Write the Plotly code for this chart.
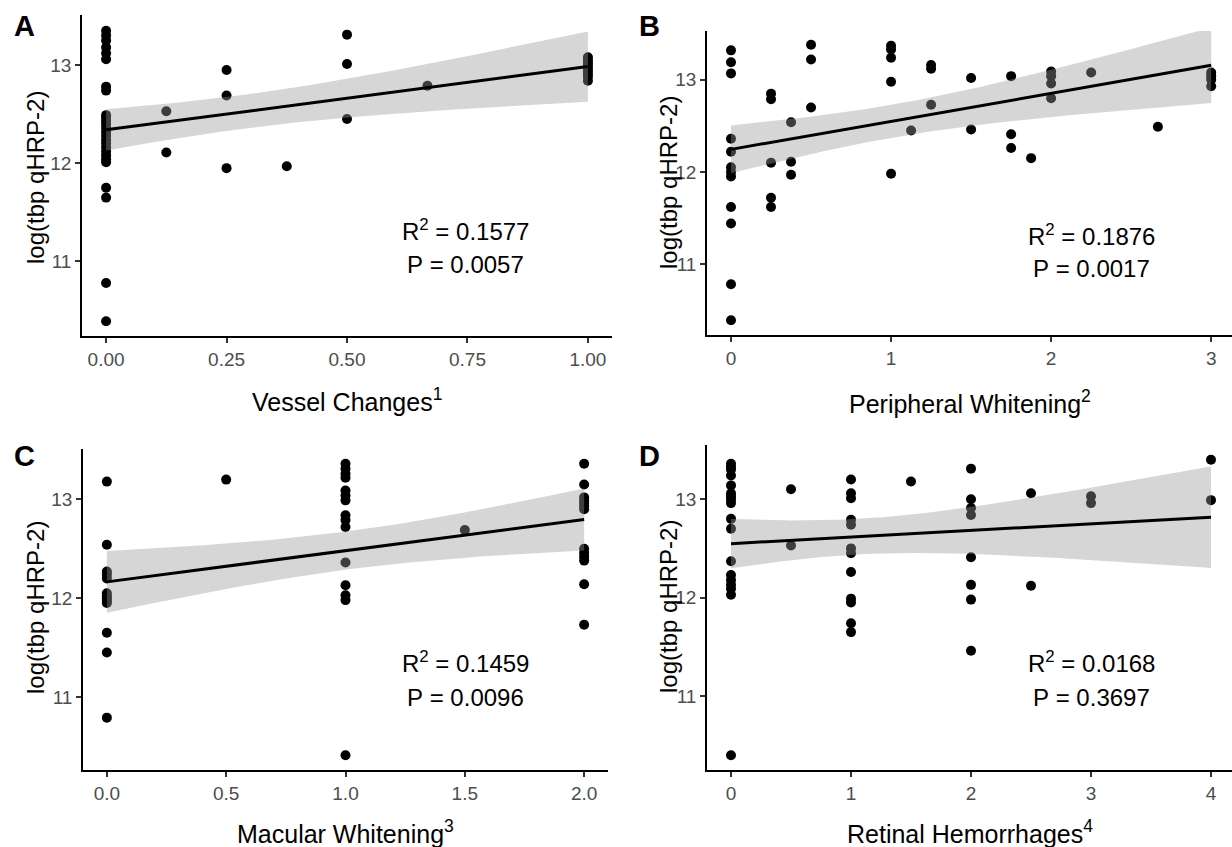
import numpy as np
import plotly.graph_objects as go

W, H = 1232, 847

# ---------------- data ----------------
# Panel A: Vessel Changes
a_x = [0]*26 + [0.125]*2 + [0.25]*3 + [0.375] + [0.5]*3 + [0.667] + [1.0]*9
a_y = [13.35, 13.30, 13.25, 13.18, 13.12, 13.06, 12.78, 12.74,
       12.49, 12.46, 12.43, 12.40, 12.36, 12.32, 12.28, 12.24, 12.20, 12.16, 12.12,
       12.08, 12.04, 12.01,
       11.75, 11.65, 10.78, 10.39,
       12.53, 12.11,
       12.95, 12.69, 11.95,
       11.97,
       13.31, 13.01, 12.45,
       12.79,
       13.08, 13.05, 13.02, 13.00, 12.97, 12.94, 12.91, 12.88, 12.84]

# Panel B: Peripheral Whitening
b_x = ([0]*12 + [0.25]*5 + [0.375]*3 + [0.5]*3 + [1.0]*5 + [1.125] + [1.25]*3 +
       [1.5]*2 + [1.75]*3 + [1.875] + [2.0]*4 + [2.25] + [2.667] + [3.0]*4)
b_y = [13.32, 13.19, 13.07, 12.36, 12.22, 12.05, 12.00, 11.95, 11.62, 11.44, 10.78, 10.39,
       12.85, 12.79, 12.10, 11.72, 11.62,
       12.54, 12.11, 11.97,
       13.38, 13.22, 12.70,
       13.37, 13.33, 13.24, 12.98, 11.98,
       12.45,
       13.16, 13.12, 12.73,
       13.02, 12.46,
       13.04, 12.41, 12.26,
       12.15,
       13.09, 13.04, 12.96, 12.80,
       13.08,
       12.49,
       13.08, 13.04, 13.00, 12.93]

# Panel C: Macular Whitening
c_x = [0]*13 + [0.5] + [1.0]*15 + [1.5] + [2.0]*13
c_y = [13.18, 12.54, 12.27, 12.24, 12.20, 12.05, 12.02, 12.00, 11.97, 11.95, 11.65, 11.45,
       10.79,
       13.20,
       13.36, 13.31, 13.26, 13.22, 13.09, 13.04, 12.99, 12.84, 12.79, 12.72, 12.36,
       12.13, 12.03, 11.98, 10.41,
       12.69,
       13.36, 13.15, 13.02, 12.99, 12.96, 12.93, 12.90, 12.50, 12.46, 12.42, 12.38, 12.14,
       11.73]

# Panel D: Retinal Hemorrhages
d_x = [0]*18 + [0.5]*2 + [1.0]*12 + [1.5] + [2.0]*8 + [2.5]*2 + [3.0]*2 + [4.0]*2
d_y = [13.36, 13.33, 13.30, 13.24, 13.14, 13.06, 13.03, 13.00, 12.96, 12.80, 12.70,
       12.37, 12.23, 12.18, 12.13, 12.09, 12.03, 10.40,
       13.10, 12.53,
       13.20, 13.06, 13.01, 12.79, 12.74, 12.50, 12.45, 12.26, 11.99, 11.95, 11.74, 11.65,
       13.18,
       13.31, 13.00, 12.91, 12.84, 12.41, 12.13, 11.98, 11.46,
       13.06, 12.12,
       13.03, 12.96,
       13.40, 12.99]

x_titles = ["Vessel Changes<sup>1</sup>", "Peripheral Whitening<sup>2</sup>",
            "Macular Whitening<sup>3</sup>", "Retinal Hemorrhages<sup>4</sup>"]
y_title = "log(tbp qHRP-2)"
panel_letters = ["A", "B", "C", "D"]
r2_text = ["0.1577", "0.1876", "0.1459", "0.0168"]
p_text = ["0.0057", "0.0017", "0.0096", "0.3697"]

a_ticks = [0, 0.25, 0.5, 0.75, 1.0]
a_ticktext = ["0.00", "0.25", "0.50", "0.75", "1.00"]
b_ticks = [0, 1, 2, 3]
c_ticks = [0, 0.5, 1.0, 1.5, 2.0]
c_ticktext = ["0.0", "0.5", "1.0", "1.5", "2.0"]
d_ticks = [0, 1, 2, 3, 4]
y_ticks = [11, 12, 13]

# ---------------- layout geometry (pixels) ----------------
panels = [
    dict(x=a_x, y=a_y, xdom=(82, 612), ydom=(15, 336), xr=[-0.05, 1.05], yr=[10.24, 13.51],
         tv=a_ticks, tt=a_ticktext, letter=(24, 26), ytit=(35, 178), xtit=(347, 400),
         ann=(466, 230, 264)),
    dict(x=b_x, y=b_y, xdom=(707, 1232), ydom=(31, 335), xr=[-0.15, 3.13], yr=[10.23, 13.53],
         tv=b_ticks, tt=[str(v) for v in b_ticks], letter=(649, 26), ytit=(668, 183),
         xtit=(970, 402), ann=(1091, 235, 268)),
    dict(x=c_x, y=c_y, xdom=(83, 608), ydom=(449, 770), xr=[-0.1, 2.1], yr=[10.26, 13.51],
         tv=c_ticks, tt=c_ticktext, letter=(24, 456), ytit=(35, 608), xtit=(345, 832),
         ann=(466, 662, 697)),
    dict(x=d_x, y=d_y, xdom=(707, 1232), ydom=(445, 770), xr=[-0.2, 4.175], yr=[10.25, 13.55],
         tv=d_ticks, tt=[str(v) for v in d_ticks], letter=(649, 456), ytit=(668, 607),
         xtit=(970, 832), ann=(1091, 662, 697)),
]


def px_x(p):
    return p / W


def px_y(p):
    return 1 - p / H


def t975(df):
    z = 1.959964
    return (z + (z**3 + z) / (4 * df) + (5 * z**5 + 16 * z**3 + 3 * z) / (96 * df**2)
            + (3 * z**7 + 19 * z**5 + 17 * z**3 - 15 * z) / (384 * df**3))


fig = go.Figure()
layout = {}
annotations = []
FONT = "Liberation Sans, Arial, sans-serif"
EQ = "&nbsp;=&nbsp;"

for i, p in enumerate(panels):
    k = "" if i == 0 else str(i + 1)
    xa, ya = "x" + k, "y" + k
    x = np.array(p["x"], dtype=float)
    y = np.array(p["y"], dtype=float)

    # points
    fig.add_trace(go.Scatter(x=x, y=y, mode="markers", xaxis=xa, yaxis=ya,
                             marker=dict(color="black", size=10), showlegend=False,
                             hoverinfo="skip"))
    # OLS fit and 95% confidence band
    n = len(x)
    xb = x.mean()
    sxx = ((x - xb) ** 2).sum()
    slope = ((x - xb) * (y - y.mean())).sum() / sxx
    icpt = y.mean() - slope * xb
    resid = y - (icpt + slope * x)
    s = np.sqrt((resid ** 2).sum() / (n - 2))
    grid = np.linspace(x.min(), x.max(), 80)
    fit = icpt + slope * grid
    se = s * np.sqrt(1 / n + (grid - xb) ** 2 / sxx)
    tq = t975(n - 2)
    up, lo = fit + tq * se, fit - tq * se
    fig.add_trace(go.Scatter(x=np.concatenate([grid, grid[::-1]]),
                             y=np.concatenate([up, lo[::-1]]),
                             fill="toself", fillcolor="rgba(153,153,153,0.4)",
                             line=dict(width=0), mode="lines", xaxis=xa, yaxis=ya,
                             showlegend=False, hoverinfo="skip"))
    fig.add_trace(go.Scatter(x=grid, y=fit, mode="lines", line=dict(color="black", width=3),
                             xaxis=xa, yaxis=ya, showlegend=False, hoverinfo="skip"))

    axis_common = dict(showline=True, linecolor="black", linewidth=1.5, showgrid=False,
                       zeroline=False, ticks="outside", ticklen=5, tickwidth=1.5,
                       tickcolor="#333333",
                       tickfont=dict(family=FONT, size=19, color="#4D4D4D"))
    layout["xaxis" + k] = dict(domain=[px_x(p["xdom"][0]), px_x(p["xdom"][1])],
                               range=p["xr"], anchor=ya, tickmode="array",
                               tickvals=p["tv"], ticktext=p["tt"], **axis_common)
    layout["yaxis" + k] = dict(domain=[px_y(p["ydom"][1]), px_y(p["ydom"][0])],
                               range=p["yr"], anchor=xa, tickmode="array",
                               tickvals=y_ticks, ticktext=[str(v) for v in y_ticks],
                               **axis_common)

    # panel letter
    annotations.append(dict(text="<b>%s</b>" % panel_letters[i], xref="paper", yref="paper",
                            x=px_x(p["letter"][0]), y=px_y(p["letter"][1]), showarrow=False,
                            xanchor="center", yanchor="middle",
                            font=dict(family=FONT, size=29, color="black")))
    # axis titles
    annotations.append(dict(text=y_title, xref="paper", yref="paper", textangle=-90,
                            x=px_x(p["ytit"][0]), y=px_y(p["ytit"][1]), showarrow=False,
                            xanchor="center", yanchor="middle",
                            font=dict(family=FONT, size=24, color="black")))
    annotations.append(dict(text=x_titles[i], xref="paper", yref="paper",
                            x=px_x(p["xtit"][0]), y=px_y(p["xtit"][1]), showarrow=False,
                            xanchor="center", yanchor="middle",
                            font=dict(family=FONT, size=25, color="black")))
    # statistics text
    ax_, ry, py = p["ann"]
    annotations.append(dict(text="R<sup>2</sup>" + EQ + r2_text[i], xref="paper", yref="paper",
                            x=px_x(ax_), y=px_y(ry), showarrow=False,
                            xanchor="center", yanchor="middle",
                            font=dict(family=FONT, size=24, color="black")))
    annotations.append(dict(text="P" + EQ + p_text[i], xref="paper", yref="paper",
                            x=px_x(ax_), y=px_y(py), showarrow=False,
                            xanchor="center", yanchor="middle",
                            font=dict(family=FONT, size=24, color="black")))

fig.update_layout(width=W, height=H, margin=dict(l=0, r=0, t=0, b=0),
                  paper_bgcolor="white", plot_bgcolor="white",
                  annotations=annotations, **layout)

fig.write_html("out.html")
